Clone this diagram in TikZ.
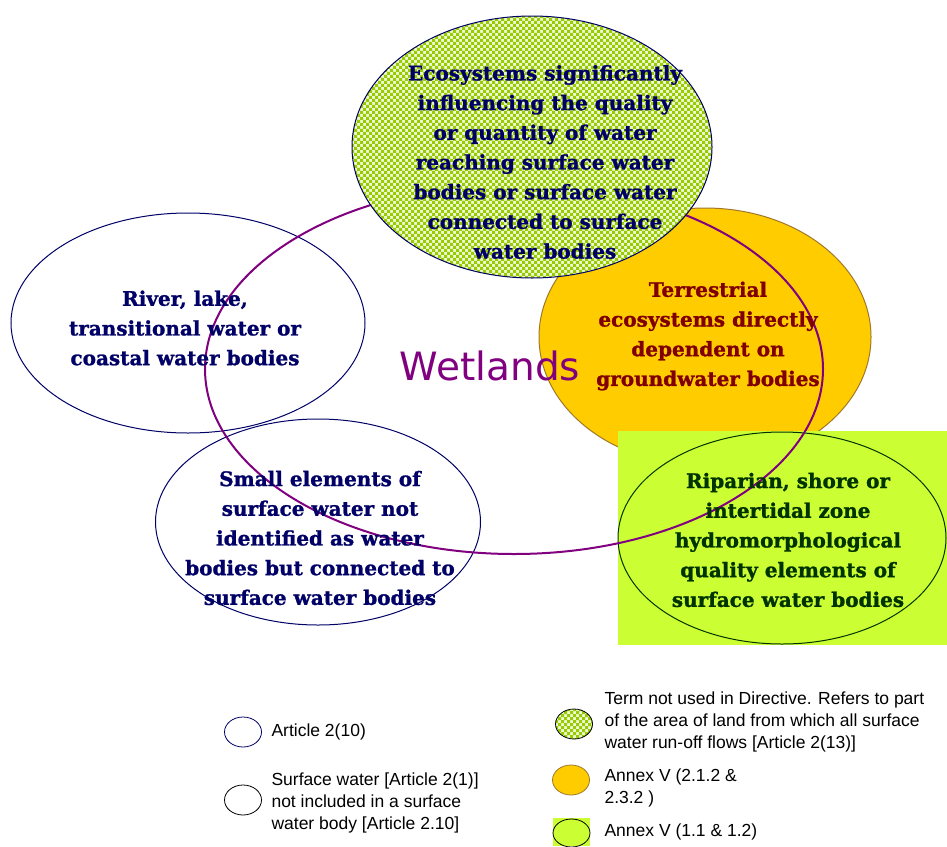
\documentclass[tikz,border=0pt]{standalone}
\usepackage{fontspec}
\setmainfont{DejaVu Serif}[BoldFeatures={FakeBold=1.2}]
\newfontfamily\keyfont{Liberation Sans}
\newfontfamily\wetfont{DejaVu Sans}
\usetikzlibrary{shapes.geometric,patterns}
\definecolor{Navy}{HTML}{000066}
\definecolor{Maroon}{HTML}{800000}
\definecolor{DeepGreen}{HTML}{003300}
\definecolor{Purple}{HTML}{800080}
\definecolor{Gold}{HTML}{FFCC00}
\definecolor{GoldEdge}{HTML}{A0782A}
\definecolor{Lime}{HTML}{CCFF33}
\definecolor{Check}{HTML}{99CC00}
\definecolor{CheckLight}{HTML}{EEF8DA}
% fine checks for the catchment zone
\pgfdeclarepatternformonly{finecheck}{\pgfqpoint{-.1pt}{-.1pt}}{\pgfqpoint{6.1pt}{6.1pt}}{\pgfqpoint{6pt}{6pt}}{%
  \pgfpathrectangle{\pgfqpoint{0pt}{0pt}}{\pgfqpoint{3pt}{3pt}}%
  \pgfpathrectangle{\pgfqpoint{3pt}{3pt}}{\pgfqpoint{3pt}{3pt}}%
  \pgfusepath{fill}}

\begin{document}
\begin{tikzpicture}[x=1pt,y=-1pt,
    zone/.style={ellipse,inner sep=0pt,line width=1pt},
    checked/.style={preaction={fill=CheckLight},pattern=finecheck,pattern color=Check},
    label/.style={align=center,font=\fontsize{20}{29.7}\selectfont\bfseries},
    key/.style={ellipse,minimum width=37pt,minimum height=30pt,inner sep=0pt,line width=.8pt},
    keytext/.style={anchor=west,align=left,font=\keyfont\fontsize{17.5}{22}\selectfont}]
  \useasboundingbox[fill=white] (0,0) rectangle (947,846);
  % zones
  \node[zone,draw=Navy,minimum width=354pt,minimum height=220pt] (river) at (188,323) {};
  \node[zone,draw=Navy,minimum width=325pt,minimum height=206pt] (small) at (318,522) {};
  \node[zone,draw=GoldEdge,fill=Gold,minimum width=332pt,minimum height=258pt] (terr) at (705,337) {};
  \node[fill=Lime,minimum width=329pt,minimum height=214pt,inner sep=0pt] (limebox) at (782.5,538) {};
  \node[zone,draw=DeepGreen,minimum width=328pt,minimum height=212pt] (ripar) at (782,538) {};
  \node[zone,draw=Purple,line width=2pt,minimum width=618pt,minimum height=370pt] (wet) at (514,369) {};
  \node[zone,draw=Navy,checked,minimum width=360pt,minimum height=262pt] (eco) at (532,147) {};
  % texts
  \node[label,text=Navy] (ecotext) at (545,162) {Ecosystems significantly\\influencing the quality\\or quantity of water\\reaching surface water\\bodies or surface water\\connected to surface\\water bodies};
  \node[label,text=Navy] (rivertext) at (185,328) {River, lake,\\transitional water or\\coastal water bodies};
  \node[label,text=Maroon] (terrtext) at (708,336) {Terrestrial\\ecosystems directly\\dependent on\\groundwater bodies};
  \node[label,text=DeepGreen] (ripartext) at (788,540) {Riparian, shore or\\intertidal zone\\hydromorphological\\quality elements of\\surface water bodies};
  \node[label,text=Navy] (smalltext) at (320,538) {Small elements of\\surface water not\\identified as water\\bodies but connected to\\surface water bodies};
  \node[text=Purple,font=\wetfont\fontsize{39}{44}\selectfont] (wettext) at (490,366) {Wetlands};
  % legend
  \node[key,draw=Navy] (k1) at (243,732) {};
  \node[keytext] (k1text) at (268,732) {Article 2(10)};
  \node[key,draw=black] (k2) at (243,800) {};
  \node[keytext] (k2text) at (268,803) {Surface water [Article 2(1)]\\not included in a surface\\water body [Article 2.10]};
  \node[key,draw=black,checked] (k3) at (574,724) {};
  \node[keytext] (k3text) at (601,722) {Term not used in Directive. Refers to part\\of the area of land from which all surface\\water run-off flows [Article 2(13)]};
  \node[key,draw=GoldEdge,fill=Gold] (k4) at (571,780) {};
  \node[keytext] (k4text) at (601,788) {Annex V (2.1.2 \&\\2.3.2 )};
  \node[fill=Lime,minimum width=37pt,minimum height=28pt,inner sep=0pt] (k5box) at (571.5,832) {};
  \node[key,draw=black,minimum height=28pt] (k5) at (571.5,833) {};
  \node[keytext] (k5text) at (601,832) {Annex V (1.1 \& 1.2)};
\end{tikzpicture}
\end{document}
